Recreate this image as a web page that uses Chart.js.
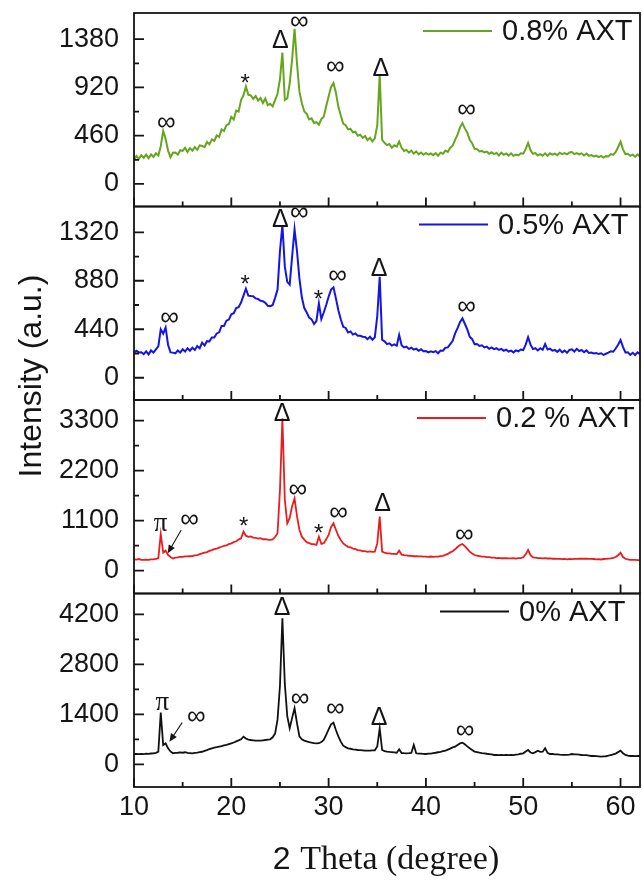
<!DOCTYPE html>
<html>
<head>
<meta charset="utf-8">
<title>XRD patterns of AXT-loaded samples</title>
<script src="https://cdn.jsdelivr.net/npm/chart.js@4.4.1/dist/chart.umd.min.js"></script>
<style>
  html, body { margin: 0; padding: 0; background: #ffffff; }
  #wrap { width: 643px; height: 882px; position: relative; }
  canvas { display: block; }
</style>
</head>
<body>
<div id="wrap"><canvas id="xrd" width="643" height="882"></canvas></div>
<script>
// 2θ scan sampled every 0.25° from 10° to 62° (209 points)
const STEP = 0.25;
const theta = Array.from({ length: 209 }, (_, i) => 10 + i * STEP);

// Intensities (a.u.), one row per 5° (10–14.75, 15–19.75, ... , 60–62)
const axt08 = [
  232, 268, 240, 275, 248, 280, 245, 282, 258, 292, 270, 360, 505, 430, 318, 255, 298, 300, 280, 322,
  315, 345, 305, 342, 318, 352, 325, 368, 362, 350, 400, 378, 425, 410, 462, 448, 520, 505, 560, 572,
  640, 615, 700, 690, 800, 845, 930, 850, 845, 812, 838, 795, 820, 772, 815, 750, 765, 740, 800, 860,
  1000, 1253, 800, 815, 960, 1190, 1480, 1150, 880, 770, 690, 668, 615, 625, 582, 590, 565, 618, 640, 740,
  835, 925, 962, 870, 738, 652, 575, 560, 520, 525, 492, 498, 460, 470, 440, 458, 418, 440, 405, 435,
  560, 1040, 420, 392, 370, 380, 345, 368, 355, 405, 345, 315, 325, 298, 318, 290, 310, 282, 300, 278,
  295, 280, 292, 275, 295, 270, 298, 288, 318, 305, 345, 365, 420, 470, 540, 579, 530, 488, 422, 388,
  335, 332, 310, 315, 300, 308, 288, 302, 285, 296, 272, 298, 278, 290, 270, 292, 268, 280, 272, 292,
  288, 332, 392, 322, 288, 295, 272, 285, 270, 292, 268, 292, 280, 290, 275, 298, 285, 295, 282, 300,
  305, 285, 295, 282, 292, 272, 290, 268, 275, 262, 270, 255, 268, 252, 265, 262, 285, 278, 305, 350,
  404, 330, 285, 288, 268, 280, 260, 282, 262
];
const axt05 = [
  228, 245, 230, 232, 215, 240, 212, 248, 228, 258, 285, 440, 400, 455, 300, 230, 228, 222, 248, 228,
  258, 238, 268, 245, 272, 252, 288, 268, 318, 292, 332, 330, 365, 365, 402, 412, 470, 470, 518, 528,
  575, 585, 632, 640, 682, 745, 808, 745, 742, 740, 720, 715, 698, 695, 680, 652, 650, 660, 725, 800,
  1150, 1386, 1008, 870, 845, 1100, 1347, 1150, 900, 730, 632, 592, 546, 530, 488, 515, 675, 532, 592, 660,
  735, 800, 820, 720, 612, 530, 462, 452, 410, 420, 392, 402, 380, 380, 372, 370, 350, 372, 345, 368,
  560, 917, 345, 330, 305, 312, 292, 302, 290, 388, 296, 275, 282, 262, 272, 255, 264, 245, 258, 240,
  242, 230, 240, 232, 242, 222, 246, 245, 272, 275, 305, 335, 403, 450, 505, 539, 490, 438, 372, 350,
  305, 306, 288, 294, 275, 282, 263, 275, 260, 268, 252, 262, 245, 255, 238, 246, 230, 248, 240, 256,
  251, 300, 367, 300, 260, 268, 248, 268, 254, 306, 256, 264, 245, 252, 235, 255, 230, 246, 226, 252,
  258, 238, 262, 242, 252, 232, 248, 225, 228, 220, 225, 215, 222, 208, 218, 228, 240, 236, 265, 300,
  342, 280, 230, 232, 208, 226, 206, 230, 215
];
const axt02 = [
  250, 242, 256, 238, 236, 244, 236, 250, 248, 260, 272, 807, 400, 440, 345, 300, 268, 288, 292, 304,
  305, 315, 316, 318, 320, 338, 342, 364, 380, 398, 408, 434, 452, 474, 486, 508, 526, 548, 558, 584,
  600, 628, 648, 684, 710, 858, 770, 745, 752, 726, 724, 704, 716, 692, 694, 682, 678, 688, 740, 822,
  1775, 3352, 1555, 1042, 1160, 1420, 1592, 1200, 900, 748, 684, 628, 606, 586, 584, 568, 748, 590, 606, 690,
  785, 960, 1042, 900, 765, 675, 600, 558, 525, 514, 486, 474, 452, 448, 432, 428, 415, 423, 412, 420,
  600, 1188, 418, 398, 380, 381, 370, 371, 365, 440, 352, 340, 337, 328, 325, 318, 320, 313, 314, 308,
  310, 303, 312, 304, 310, 310, 320, 328, 347, 368, 402, 428, 470, 520, 565, 587, 540, 480, 418, 380,
  345, 330, 322, 310, 310, 298, 297, 288, 287, 278, 280, 273, 274, 273, 272, 270, 274, 266, 277, 278,
  294, 360, 455, 340, 294, 287, 278, 278, 270, 277, 268, 270, 263, 264, 258, 260, 253, 260, 250, 257,
  254, 260, 260, 262, 262, 262, 263, 260, 260, 257, 248, 254, 246, 257, 258, 267, 270, 282, 300, 340,
  396, 300, 262, 247, 238, 237, 236, 234, 233
];
const axt00 = [
  288, 294, 283, 292, 286, 297, 290, 302, 306, 322, 353, 1445, 540, 588, 448, 360, 310, 320, 323, 332,
  323, 337, 318, 314, 306, 320, 328, 342, 351, 377, 398, 427, 446, 464, 478, 497, 510, 532, 546, 567,
  588, 610, 640, 668, 700, 773, 720, 690, 680, 672, 665, 662, 661, 670, 680, 690, 700, 755, 860, 1250,
  2200, 4088, 2250, 1350, 1008, 1300, 1568, 1150, 780, 700, 662, 640, 620, 605, 592, 585, 590, 622, 680, 820,
  980, 1120, 1165, 960, 780, 633, 520, 480, 448, 435, 420, 410, 400, 395, 390, 385, 381, 385, 388, 392,
  500, 1008, 400, 370, 353, 345, 340, 332, 325, 420, 315, 310, 308, 312, 318, 540, 308, 300, 298, 292,
  288, 297, 298, 312, 323, 337, 348, 367, 379, 412, 438, 472, 493, 540, 585, 605, 560, 500, 448, 400,
  353, 340, 325, 315, 308, 295, 285, 275, 260, 264, 256, 262, 258, 264, 256, 264, 258, 272, 278, 295,
  308, 360, 400, 330, 308, 340, 381, 350, 353, 448, 320, 288, 290, 278, 277, 268, 262, 263, 264, 273,
  288, 280, 275, 270, 260, 258, 255, 245, 232, 235, 228, 222, 213, 220, 225, 240, 260, 275, 300, 340,
  381, 310, 260, 245, 232, 235, 230, 232, 232
];

// Axis tick values
const xTicks = [10, 20, 30, 40, 50, 60];
const yTicks08 = [0, 460, 920, 1380];
const yTicks05 = [0, 440, 880, 1320];
const yTicks02 = [0, 1100, 2200, 3300];
const yTicks00 = [0, 1400, 2800, 4200];

// Series names
const names = ['0.8% AXT', '0.5% AXT', '0.2 % AXT', '0% AXT'];

// Phase markers: [2θ, intensity level, symbol]
const marks08 = [[13.31, 585, '∞'], [21.42, 1001, '*'], [25.04, 1367, 'Δ'], [26.99, 1548, '∞'],
                 [30.69, 1119, '∞'], [35.38, 1104, 'Δ'], [44.17, 706, '∞']];
const marks05 = [[13.64, 548, '∞'], [21.42, 881, '*'], [25.04, 1438, 'Δ'], [26.99, 1498, '∞'],
                 [28.94, 751, '*'], [30.92, 923, '∞'], [35.2, 993, 'Δ'], [44.17, 639, '∞']];
const marks02 = [[12.72, 983, 'π'], [15.7, 1115, '∞'], [21.27, 1056, '*'], [25.22, 3463, 'Δ'],
                 [26.82, 1775, '∞'], [28.97, 911, '*'], [31.03, 1263, '∞'], [35.54, 1483, 'Δ'],
                 [43.93, 785, '∞']];
const marks00 = [[12.9, 1660, 'π'], [16.39, 1333, '∞'], [25.22, 4413, 'Δ'], [27.06, 1820, '∞'],
                 [30.69, 1540, '∞'], [35.2, 1333, 'Δ'], [44.03, 941, '∞']];
// Pointer arrows: [2θ from, level from, 2θ to, level to]
const arrows02 = [[14.85, 895, 13.47, 383]];
const arrows00 = [[14.95, 1165, 13.64, 633]];

const SANS = '"Liberation Sans", Arial, Helvetica, sans-serif';
const SERIF = '"Liberation Serif", "Times New Roman", Times, serif';
const INK = '#151515';

const panels = [
  { id: 'y08', name: names[0], values: axt08, ticks: yTicks08, marks: marks08, arrows: [],
    color: '#66a61e', min: -215, max: 1630, order: 4, legendX: 502, lw: 2.0 },
  { id: 'y05', name: names[1], values: axt05, ticks: yTicks05, marks: marks05, arrows: [],
    color: '#1414e6', min: -202, max: 1554, order: 3, legendX: 498, lw: 2.0 },
  { id: 'y02', name: names[2], values: axt02, ticks: yTicks02, marks: marks02, arrows: arrows02,
    color: '#ec1c1c', min: -502, max: 3755, order: 2, legendX: 496, lw: 1.8 },
  { id: 'y00', name: names[3], values: axt00, ticks: yTicks00, marks: marks00, arrows: arrows00,
    color: '#111111', min: -636, max: 4782, order: 1, legendX: 519, lw: 1.8 }
];

const midpoints = arr => arr.slice(1).map((v, i) => (v + arr[i]) / 2);

// Frame around each panel plus inward major/minor ticks
const framePlugin = {
  id: 'panelFrames',
  afterDatasetsDraw(chart) {
    const { ctx, chartArea: { left, right } } = chart;
    const xs = chart.scales.x;
    const xMinor = midpoints(xTicks);
    ctx.save();
    ctx.strokeStyle = INK;
    ctx.lineWidth = 1.8;
    panels.forEach(p => {
      const ys = chart.scales[p.id];
      const top = ys.top, bottom = ys.bottom;
      ctx.beginPath();
      xTicks.forEach(v => {
        const px = xs.getPixelForValue(v);
        ctx.moveTo(px, bottom); ctx.lineTo(px, bottom - 9);
      });
      xMinor.forEach(v => {
        const px = xs.getPixelForValue(v);
        ctx.moveTo(px, bottom); ctx.lineTo(px, bottom - 5);
      });
      p.ticks.forEach(v => {
        const py = ys.getPixelForValue(v);
        ctx.moveTo(left, py); ctx.lineTo(left + 10, py);
      });
      midpoints(p.ticks).forEach(v => {
        const py = ys.getPixelForValue(v);
        ctx.moveTo(left, py); ctx.lineTo(left + 5, py);
      });
      ctx.stroke();
      ctx.strokeRect(left, top, right - left, bottom - top);
    });
    ctx.restore();
  }
};

const markStyle = {
  '∞': { font: `26px ${SANS}`, dy: 0 },
  'Δ': { font: `25px ${SANS}`, dy: 1 },
  '*': { font: `24px ${SANS}`, dy: 5 },
  'π': { font: `27px ${SERIF}`, dy: -2 }
};

// Legends, phase symbols, arrows and axis titles
const labelPlugin = {
  id: 'panelLabels',
  afterDraw(chart) {
    const ctx = chart.ctx;
    const xs = chart.scales.x;
    ctx.save();
    panels.forEach(p => {
      const ys = chart.scales[p.id];
      // legend entry
      const ly = ys.top + 18;
      ctx.strokeStyle = p.color;
      ctx.lineWidth = 1.8;
      ctx.beginPath();
      ctx.moveTo(p.legendX - 79, ly); ctx.lineTo(p.legendX - 10, ly);
      ctx.stroke();
      ctx.fillStyle = INK;
      ctx.font = `29px ${SANS}`;
      ctx.textAlign = 'left';
      ctx.textBaseline = 'middle';
      ctx.fillText(p.name, p.legendX, ly + 1);
      // phase symbols
      ctx.textAlign = 'center';
      p.marks.forEach(([t, v, s]) => {
        const st = markStyle[s];
        ctx.font = st.font;
        ctx.fillText(s, xs.getPixelForValue(t), ys.getPixelForValue(v) + st.dy);
      });
      // arrows
      p.arrows.forEach(([t0, v0, t1, v1]) => {
        const x0 = xs.getPixelForValue(t0), y0 = ys.getPixelForValue(v0);
        const x1 = xs.getPixelForValue(t1), y1 = ys.getPixelForValue(v1);
        const a = Math.atan2(y1 - y0, x1 - x0);
        ctx.strokeStyle = INK;
        ctx.lineWidth = 1.1;
        ctx.beginPath();
        ctx.moveTo(x0, y0); ctx.lineTo(x1 - 5 * Math.cos(a), y1 - 5 * Math.sin(a));
        ctx.stroke();
        ctx.beginPath();
        ctx.moveTo(x1, y1);
        ctx.lineTo(x1 - 8 * Math.cos(a) + 3.5 * Math.sin(a), y1 - 8 * Math.sin(a) - 3.5 * Math.cos(a));
        ctx.lineTo(x1 - 8 * Math.cos(a) - 3.5 * Math.sin(a), y1 - 8 * Math.sin(a) + 3.5 * Math.cos(a));
        ctx.closePath();
        ctx.fill();
      });
    });

    // y-axis title
    ctx.fillStyle = INK;
    ctx.save();
    ctx.translate(41, 376);
    ctx.rotate(-Math.PI / 2);
    ctx.font = `32px ${SANS}`;
    ctx.textAlign = 'center';
    ctx.textBaseline = 'alphabetic';
    ctx.fillText('Intensity (a.u.)', 0, 0);
    ctx.restore();

    // x-axis title: sans "2" followed by serif "Theta (degree)"
    const partA = '2', partB = ' Theta (degree)';
    ctx.textBaseline = 'alphabetic';
    ctx.textAlign = 'left';
    ctx.font = `34px ${SANS}`;
    const wA = ctx.measureText(partA).width;
    ctx.font = `34px ${SERIF}`;
    const wB = ctx.measureText(partB).width;
    const x0 = 386 - (wA + wB) / 2;
    ctx.font = `32px ${SANS}`;
    ctx.fillText(partA, x0, 869);
    ctx.font = `34px ${SERIF}`;
    ctx.fillText(partB, x0 + wA, 869);
    ctx.restore();
  }
};

const scales = {
  x: {
    type: 'linear', position: 'bottom', min: 10, max: 62,
    afterBuildTicks: axis => { axis.ticks = xTicks.map(v => ({ value: v })); },
    afterFit: axis => { axis.height = 95; axis.paddingLeft = 0; axis.paddingRight = 0; },
    grid: { display: false, drawTicks: false },
    border: { display: false },
    ticks: { font: { family: SANS, size: 27 }, color: INK, padding: 4, autoSkip: false,
             maxRotation: 0, callback: v => String(v) }
  }
};
panels.forEach(p => {
  scales[p.id] = {
    type: 'linear', position: 'left', stack: 'xrd', stackWeight: 1, weight: p.order,
    min: p.min, max: p.max,
    afterBuildTicks: axis => { axis.ticks = p.ticks.map(v => ({ value: v })); },
    afterFit: axis => { axis.width = 134; axis.paddingTop = 0; axis.paddingBottom = 0; },
    grid: { display: false, drawTicks: false },
    border: { display: false },
    ticks: { font: { family: SANS, size: 27 }, color: INK, padding: 15, autoSkip: false,
             callback: v => String(v) }
  };
});

new Chart(document.getElementById('xrd'), {
  type: 'line',
  data: {
    datasets: panels.map(p => ({
      label: p.name,
      data: theta.map((t, i) => ({ x: t, y: p.values[i] })),
      yAxisID: p.id,
      xAxisID: 'x',
      borderColor: p.color,
      borderWidth: p.lw,
      pointRadius: 0,
      tension: 0,
      fill: false
    }))
  },
  options: {
    responsive: false,
    devicePixelRatio: 1,
    animation: false,
    layout: { padding: { top: 13, right: 3, bottom: 0, left: 0 } },
    plugins: { legend: { display: false }, tooltip: { enabled: false } },
    scales
  },
  plugins: [framePlugin, labelPlugin]
});
</script>
</body>
</html>
